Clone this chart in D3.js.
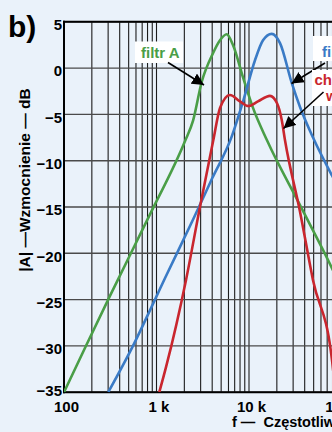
<!DOCTYPE html>
<html>
<head>
<meta charset="utf-8">
<script src="https://cdn.jsdelivr.net/npm/d3@7"></script>
<style>
  html, body { margin: 0; padding: 0; background: #eaf2fa; }
  svg { display: block; }
  text { font-family: "Liberation Sans", Arial, sans-serif; font-weight: bold; }
</style>
</head>
<body>
<svg id="chart" width="332" height="432"></svg>
<script>
// Frequency (Hz) / gain (dB) samples for each response curve
const filterAFreq = [100, 169, 314, 850, 2030, 2480, 3080, 4080, 4860, 5740, 6710, 8620, 11050, 15650, 35600, 78900, 100000];
const filterADb   = [-35, -30.2, -24.6, -15.8, -7.9, -5.7, -1.5, 1.6, 3.0, 3.65, 2.5, -1.0, -4.3, -7.8, -14.8, -21.6, -23.8];

const filterBFreq = [301, 557, 963, 1234, 2500, 4000, 6500, 8680, 11610, 14170, 17590, 21640, 28960, 35600, 49200, 78900, 100000];
const filterBDb   = [-35, -30, -25, -22.7, -16.3, -11.9, -7.4, -3.5, 0.85, 3.0, 3.7, 2.7, -1.6, -4.2, -7.5, -11.6, -13.5];

const totalFreq = [1072, 1267, 2083, 2950, 4110, 4860, 6230, 7990, 9820, 12500, 16860, 20090, 22590, 24500, 35600, 49200, 78900, 86000];
const totalDb   = [-35, -32.3, -22.9, -15, -7.8, -4.3, -2.9, -3.6, -4.1, -3.6, -3.0, -3.8, -5.6, -7.8, -15.5, -22.9, -31.5, -35];

const yTicks = [5, 0, -5, -10, -15, -20, -25, -30, -35];
const xTickValues = [100, 1000, 10000, 100000];
const xTickLabels = ["100", "1 k", "10 k", "100 k"];

const colors = { a: "#4a9e47", b: "#3a7bc6", total: "#c9262e" };

const svg = d3.select("#chart");

const x = d3.scaleLog().domain([100, 100000]).range([64, 341.5]);
const y = d3.scaleLinear().domain([-35, 5]).range([392.2, 21.8]);

// Clip region for the plot area
svg.append("defs").append("clipPath").attr("id", "plotClip")
  .append("rect")
  .attr("x", x(100)).attr("y", y(5))
  .attr("width", x(100000) - x(100)).attr("height", y(-35) - y(5));

// Vertical log grid
svg.append("g").selectAll("line").data(x.ticks())
  .join("line")
  .attr("x1", d => x(d)).attr("x2", d => x(d))
  .attr("y1", y(5)).attr("y2", y(-35))
  .attr("stroke", "#1c1c1c").attr("stroke-width", 1.1);

// Horizontal grid
svg.append("g").selectAll("line").data(yTicks)
  .join("line")
  .attr("x1", x(100)).attr("x2", 332)
  .attr("y1", d => y(d)).attr("y2", d => y(d))
  .attr("stroke", "#4a4a4a").attr("stroke-width", 1.4);

// Frame: top, bottom, left
svg.append("line").attr("x1", x(100) - 1).attr("x2", 332).attr("y1", y(5)).attr("y2", y(5))
  .attr("stroke", "#000").attr("stroke-width", 2);
svg.append("line").attr("x1", x(100) - 1).attr("x2", 332).attr("y1", y(-35)).attr("y2", y(-35))
  .attr("stroke", "#000").attr("stroke-width", 2);
svg.append("line").attr("x1", x(100)).attr("x2", x(100)).attr("y1", y(5) - 1).attr("y2", y(-35) + 1)
  .attr("stroke", "#000").attr("stroke-width", 2);

// Curves
const line = d3.line()
  .x(d => x(d[0])).y(d => y(d[1]))
  .curve(d3.curveMonotoneX);

const curves = [
  { f: filterAFreq, v: filterADb, c: colors.a },
  { f: filterBFreq, v: filterBDb, c: colors.b },
  { f: totalFreq, v: totalDb, c: colors.total }
];
const plot = svg.append("g").attr("clip-path", "url(#plotClip)");
curves.forEach(s => {
  plot.append("path")
    .datum(d3.zip(s.f, s.v))
    .attr("d", line)
    .attr("fill", "none")
    .attr("stroke", s.c)
    .attr("stroke-width", 2.6)
    .attr("stroke-linejoin", "round");
});

// Y axis labels
const yAxis = d3.axisLeft(y).tickValues(yTicks).tickSize(0).tickPadding(0)
  .tickFormat(d => d < 0 ? "\u2212" + Math.abs(d) : String(d));
const yG = svg.append("g").attr("transform", `translate(${x(100) - 2},0)`).call(yAxis);
yG.select(".domain").remove();
yG.selectAll("text")
  .attr("font-size", 15).attr("fill", "#000")
  .attr("font-family", "Liberation Sans, Arial, sans-serif")
  .attr("font-weight", "bold")
  .attr("dy", d => d === -35 ? "0.25em" : "0.52em");

// X axis labels
const xAxis = d3.axisBottom(x).tickValues(xTickValues).tickSize(0).tickPadding(0)
  .tickFormat((d, i) => xTickLabels[i]);
const xG = svg.append("g").attr("transform", `translate(2,${y(-35)})`).call(xAxis);
xG.select(".domain").remove();
xG.selectAll("text")
  .attr("font-size", 15).attr("fill", "#000")
  .attr("font-family", "Liberation Sans, Arial, sans-serif")
  .attr("font-weight", "bold")
  .attr("dy", "1.3em");

// Axis titles
svg.append("text")
  .attr("transform", "translate(29.5,180) rotate(-90)")
  .attr("text-anchor", "middle")
  .attr("font-size", 15.5).attr("fill", "#000")
  .text("|A| \u2014Wzmocnienie \u2014 dB");

svg.append("text")
  .attr("x", 232).attr("y", 427)
  .attr("font-size", 14.5).attr("fill", "#000")
  .attr("xml:space", "preserve")
  .text("f \u2014  Cz\u0119stotliwo\u015b\u0107 \u2014 Hz");

// Panel letter
svg.append("text")
  .attr("x", 8).attr("y", 37)
  .attr("font-size", 30).attr("fill", "#000")
  .text("b)");

// Arrow marker
svg.append("defs").append("marker")
  .attr("id", "arrowHead")
  .attr("viewBox", "0 0 10 10")
  .attr("refX", 10).attr("refY", 5)
  .attr("markerWidth", 12).attr("markerHeight", 12)
  .attr("markerUnits", "userSpaceOnUse")
  .attr("orient", "auto")
  .append("path").attr("d", "M0,0 L10,5 L0,10 Z").attr("fill", "#000");

function callout(boxX, boxY, boxW, boxH, lines, color, from, to) {
  svg.append("rect")
    .attr("x", boxX).attr("y", boxY).attr("width", boxW).attr("height", boxH)
    .attr("fill", "#fff");
  lines.forEach(l => {
    svg.append("text")
      .attr("x", l.x).attr("y", l.y)
      .attr("font-size", 15).attr("fill", color)
      .text(l.t);
  });
  svg.append("line")
    .attr("x1", from[0]).attr("y1", from[1])
    .attr("x2", to[0]).attr("y2", to[1])
    .attr("stroke", "#000").attr("stroke-width", 1.6)
    .attr("marker-end", "url(#arrowHead)");
}

callout(135, 41.5, 48, 21.5, [{ t: "filtr A", x: 141, y: 57.5 }], colors.a,
  [168, 62.5], [204, 85]);
callout(313, 36, 40, 25, [{ t: "filtr B", x: 322, y: 57 }], colors.b,
  [325, 63], [291.5, 83.5]);
callout(312, 70, 60, 36, [
  { t: "charakterystyka", x: 314.5, y: 85 },
  { t: "wypadkowa", x: 326, y: 101 }
], colors.total, [323.5, 92], [283.5, 128.5]);
</script>
</body>
</html>
